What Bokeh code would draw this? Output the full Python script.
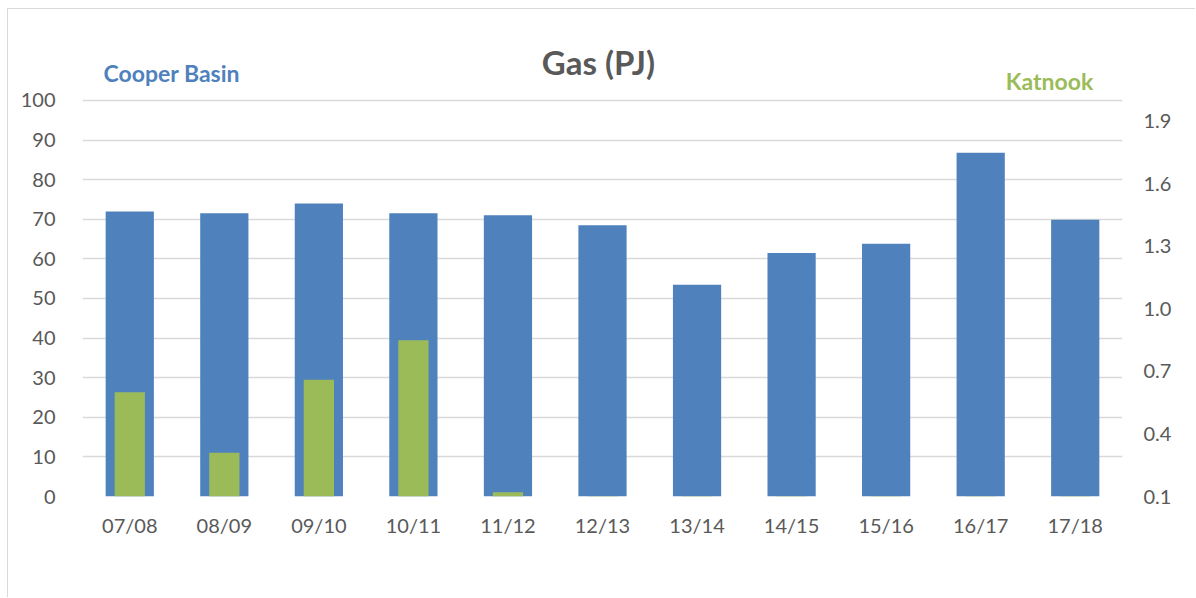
from bokeh.plotting import figure
from bokeh.models import Range1d, LinearAxis, FixedTicker, PrintfTickFormatter
from bokeh.core.properties import value
from bokeh.embed import file_html
from bokeh.resources import INLINE

years = ["07/08", "08/09", "09/10", "10/11", "11/12", "12/13", "13/14", "14/15", "15/16", "16/17", "17/18"]
cooper_basin = [72.0, 71.5, 74.0, 71.5, 71.0, 68.5, 53.5, 61.5, 63.8, 86.8, 69.9]
katnook = [0.60, 0.31, 0.66, 0.85, 0.12, 0.0, 0.0, 0.0, 0.0, 0.0, 0.0]
left_ticks = [0, 10, 20, 30, 40, 50, 60, 70, 80, 90, 100]
right_ticks = [0.1, 0.4, 0.7, 1.0, 1.3, 1.6, 1.9]

BLUE = "#4F81BD"
GREEN = "#9BBB59"
GREY = "#595959"
GRID = "#D9D9D9"
FONT = "Lato"

# the frame extends above 100 so that the header texts live inside it
Y_MAX = 120.2
KAT_MIN = 0.1
KAT_MAX = KAT_MIN + 1.9 * Y_MAX / 100.0

p = figure(x_range=years, y_range=Range1d(0, Y_MAX), width=1188, height=589,
           output_backend="svg", toolbar_location=None,
           min_border_left=74, min_border_right=74, min_border_top=11, min_border_bottom=102)
p.styles = {"margin-left": "7px", "margin-top": "8px",
            "border-left": "1px solid #D9D9D9", "border-top": "1px solid #D9D9D9"}
p.outline_line_color = None
p.x_range.range_padding = 0

p.extra_y_ranges = {"kat": Range1d(KAT_MIN, KAT_MAX)}

p.vbar(x=years, top=cooper_basin, bottom=0, width=0.51, fill_color=BLUE, line_color=None)
p.vbar(x=years, top=katnook, bottom=KAT_MIN, width=0.32, fill_color=GREEN, line_color=None,
       y_range_name="kat")

p.xgrid.grid_line_color = None
p.ygrid.grid_line_color = GRID
p.ygrid.grid_line_width = 1.5
p.yaxis.ticker = FixedTicker(ticks=left_ticks)

right = LinearAxis(y_range_name="kat", ticker=FixedTicker(ticks=right_ticks),
                   formatter=PrintfTickFormatter(format="%.1f"))
p.add_layout(right, "right")

for ax in [p.xaxis[0], p.yaxis[0], right]:
    ax.axis_line_color = None
    ax.major_tick_line_color = None
    ax.minor_tick_line_color = None
    ax.major_label_text_font = FONT
    ax.major_label_text_font_size = "20px"
    ax.major_label_text_color = GREY
p.xaxis[0].major_label_standoff = 10
p.yaxis[0].major_label_standoff = 21
right.major_label_standoff = 15

p.text(x=[5.457], y=[109.7], text=["Gas (PJ)"], text_align="center", text_baseline="alphabetic",
       text_font=value(FONT), text_font_style="bold", text_font_size="33px", text_color=GREY)
p.text(x=[0.222], y=[106.9], text=["Cooper Basin"], text_align="left", text_baseline="alphabetic",
       text_font=value(FONT), text_font_style="bold", text_font_size="23px", text_color=BLUE)
p.text(x=[10.69], y=[104.8], text=["Katnook"], text_align="right", text_baseline="alphabetic",
       text_font=value(FONT), text_font_style="bold", text_font_size="23px", text_color=GREEN)

open("out.html", "w").write(file_html(p, INLINE))
